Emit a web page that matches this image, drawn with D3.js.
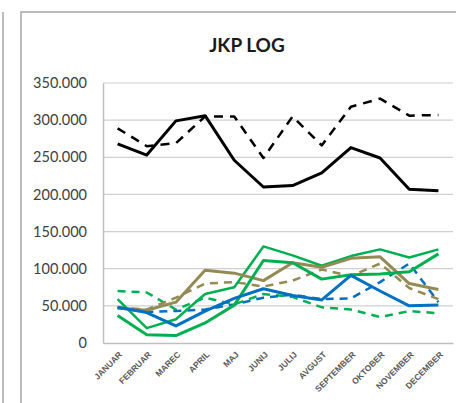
<!DOCTYPE html>
<html>
<head>
<meta charset="utf-8">
<script src="https://cdn.jsdelivr.net/npm/d3@7"></script>
<style>
  body { margin: 0; background: #fff; }
  svg { display: block; font-family: Lato, "Noto Sans", sans-serif; }
</style>
</head>
<body>
<div id="chart"></div>
<script>
// data (in thousands)
var months = ["JANUAR", "FEBRUAR", "MAREC", "APRIL", "MAJ", "JUNIJ", "JULIJ", "AVGUST", "SEPTEMBER", "OKTOBER", "NOVEMBER", "DECEMBER"];
var yTicks = [0, 50000, 100000, 150000, 200000, 250000, 300000, 350000];

var blackSolid  = [268, 253, 299, 306, 246, 210, 212, 229, 263, 249, 207, 205];
var blackDashed = [289, 265, 269, 305, 305, 249, 305, 266, 318, 329, 306, 307];
var greenThick  = [37, 11, 10, 27, 51, 111, 108, 86, 92, 93, 96, 120];
var greenThin   = [59, 20, 32, 66, 75, 130, 118, 104, 117, 126, 115, 126];
var greenDashed = [70, 68, 45, 61, 52, 66, 62, 48, 45, 35, 43, 40];
var blueSolid   = [48, 41, 23, 43, 60, 73, 64, 58, 91, 70, 50, 51];
var blueDashed  = [47, 42, 43, 45, 52, 61, 65, 59, 60, 82, 107, 55];
var tanSolid    = [47, 44, 55, 98, 94, 84, 108, 102, 114, 116, 80, 72];
var tanDashed   = [48, 45, 61, 80, 82, 76, 84, 99, 90, 107, 74, 59];

var series = [
    {name: "greenDashed", values: greenDashed, color: "#00b050", width: 2.5, dash: "8,6"},
    {name: "blueDashed",  values: blueDashed,  color: "#0070c0", width: 2.5, dash: "8,6"},
    {name: "tanDashed",   values: tanDashed,   color: "#948a54", width: 2.5, dash: "8,6"},
    {name: "greenThin",   values: greenThin,   color: "#00b050", width: 2.5, dash: null},
    {name: "tanSolid",    values: tanSolid,    color: "#948a54", width: 3,   dash: null},
    {name: "greenThick",  values: greenThick,  color: "#00b050", width: 3,   dash: null},
    {name: "blueSolid",   values: blueSolid,   color: "#0070c0", width: 3,   dash: null},
    {name: "blackDashed", values: blackDashed, color: "#000000", width: 2.5, dash: "9,7"},
    {name: "blackSolid",  values: blackSolid,  color: "#000000", width: 3,   dash: null}
];

var W = 456, H = 403;
var margin = {top: 83, right: 3, bottom: 60, left: 103},
    width = W - margin.left - margin.right,
    height = H - margin.top - margin.bottom;

var svg = d3.select("#chart")
    .append("svg")
    .attr("width", W)
    .attr("height", H);

// chart frames (neighbour chart edge + this chart)
svg.append("path")
    .attr("d", "M3,12V" + (H + 5))
    .attr("stroke", "#a6a6a6").attr("stroke-width", 1.5).attr("fill", "none");
svg.append("path")
    .attr("d", "M21," + (H + 5) + "V12H" + (W + 5))
    .attr("stroke", "#a6a6a6").attr("stroke-width", 1.5).attr("fill", "none");

// title
svg.append("text")
    .attr("x", 247)
    .attr("y", 52)
    .style("text-anchor", "middle")
    .style("font-size", "19px")
    .style("font-weight", "bold")
    .style("fill", "#1a1a1a")
    .text("JKP LOG");

var g = svg.append("g")
    .attr("transform", "translate(" + margin.left + "," + margin.top + ")");

var x = d3.scaleBand()
    .domain(months)
    .range([0, width]);

var y = d3.scaleLinear()
    .domain([0, 350000])
    .range([height, 0]);

// gridlines
g.selectAll("grid")
    .data(yTicks.slice(1))
    .enter()
    .append("line")
    .attr("x1", 0)
    .attr("x2", width)
    .attr("y1", function(d) { return y(d) })
    .attr("y2", function(d) { return y(d) })
    .attr("stroke", "#d0d0d0")
    .attr("stroke-width", 1.2);

// Y axis
var fmt = function(d) { return d === 0 ? "0" : d3.format(",")(d).replace(/,/g, "."); };
var yAxis = g.append("g")
    .call(d3.axisLeft(y).tickValues(yTicks).tickFormat(fmt).tickSize(0).tickPadding(16));
yAxis.select(".domain").attr("stroke", "#bfbfbf").attr("stroke-width", 1.5);
yAxis.selectAll("text")
    .style("font-size", "14.5px")
    .style("fill", "#404040")
    .style("font-family", "Lato, sans-serif");

// X axis
var xAxis = g.append("g")
    .attr("transform", "translate(0," + height + ")")
    .call(d3.axisBottom(x).tickSize(0).tickPadding(0));
xAxis.select(".domain").attr("stroke", "#bfbfbf").attr("stroke-width", 1.5);
xAxis.selectAll("text")
    .attr("transform", "translate(3,10) rotate(-45)")
    .attr("dy", "0.35em")
    .attr("y", 0)
    .style("text-anchor", "end")
    .style("font-size", "8.5px")
    .style("font-weight", "bold")
    .style("fill", "#595959");

// lines
var line = d3.line()
    .x(function(d, i) { return x(months[i]) + x.bandwidth() / 2 })
    .y(function(d) { return y(d * 1000) })
    .curve(d3.curveLinear);

g.selectAll("myLines")
    .data(series)
    .enter()
    .append("path")
    .attr("class", function(d) { return d.name })
    .attr("d", function(d) { return line(d.values) })
    .attr("stroke", function(d) { return d.color })
    .attr("stroke-dasharray", function(d) { return d.dash })
    .style("stroke-width", function(d) { return d.width })
    .style("stroke-linejoin", "round")
    .style("fill", "none");
</script>
</body>
</html>
